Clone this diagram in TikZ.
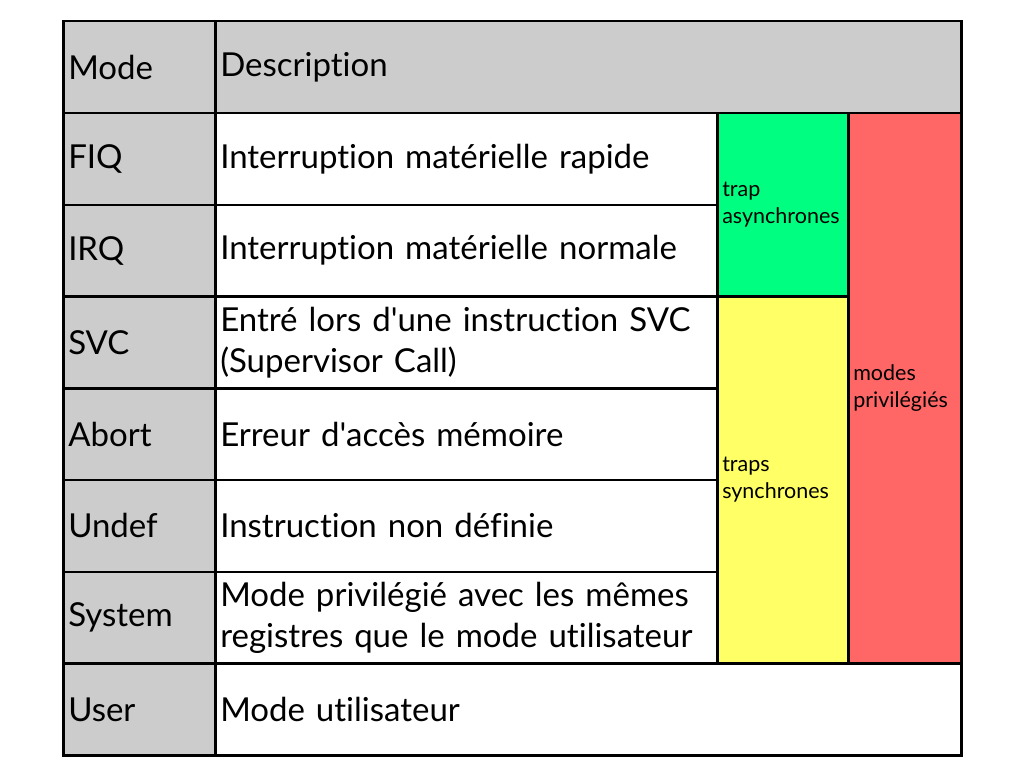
\documentclass[tikz,border=0pt]{standalone}
\usepackage{fontspec}
\setmainfont[Ligatures=NoCommon]{Lato}
\usetikzlibrary{positioning}
\definecolor{gris}{HTML}{CCCCCC}
\definecolor{vert}{HTML}{00FF80}
\definecolor{jaune}{HTML}{FFFF66}
\definecolor{rouge}{HTML}{FF6666}
\newcommand{\grand}{\fontsize{33}{41}\selectfont}
\newcommand{\petit}{\fontsize{21.5}{27}\selectfont}
\begin{document}
\begin{tikzpicture}[x=1pt,y=-1pt,
	cellule/.style={draw, line width=2.5pt, anchor=north west, inner xsep=5pt, inner ysep=0pt, align=left, font=\grand},
	modecell/.style={cellule, fill=gris, text width=142pt, minimum height=91.75pt},
	desccell/.style={cellule, fill=white, text width=492pt, minimum height=91.75pt},
	trapcell/.style={cellule, font=\petit, text width=121pt}]
	\useasboundingbox (0,0) rectangle (1024,768);
	% en-tete
	\node[modecell] (mode) at(62,20){Mode};
	\node[cellule, fill=gris, text width=736pt, minimum height=91.75pt] (desc) at(214,20){Description};
	% modes
	\node[modecell] (fiq) at(62,111.75){FIQ};
	\node[desccell] (dfiq) at(214,111.75){Interruption matérielle rapide};
	\node[modecell] (irq) at(62,203.5){IRQ};
	\node[desccell] (dirq) at(214,203.5){Interruption matérielle normale};
	\node[modecell] (svc) at(62,295.25){SVC};
	\node[desccell] (dsvc) at(214,295.25){Entré lors d\textquotesingle une instruction SVC\\(Supervisor Call)};
	\node[modecell] (abort) at(62,387){Abort};
	\node[desccell] (dabort) at(214,387){Erreur d\textquotesingle accès mémoire};
	\node[modecell] (undef) at(62,478.75){Undef};
	\node[desccell] (dundef) at(214,478.75){Instruction non définie};
	\node[modecell] (system) at(62,570.5){System};
	\node[desccell] (dsystem) at(214,570.5){Mode privilégié avec les mêmes\\registres que le mode utilisateur};
	\node[modecell] (user) at(62,662.25){User};
	\node[cellule, fill=white, text width=736pt, minimum height=91.75pt] (duser) at(214,662.25){Mode utilisateur};
	% traps
	\node[trapcell, fill=vert, minimum height=183.5pt] (async) at(716,111.75){trap\\asynchrones};
	\node[trapcell, fill=jaune, minimum height=367pt] (sync) at(716,295.25){traps\\synchrones};
	\node[cellule, font=\petit, fill=rouge, text width=103pt, minimum height=550.5pt] (priv) at(847,111.75){modes\\privilégiés};
\end{tikzpicture}
\end{document}
